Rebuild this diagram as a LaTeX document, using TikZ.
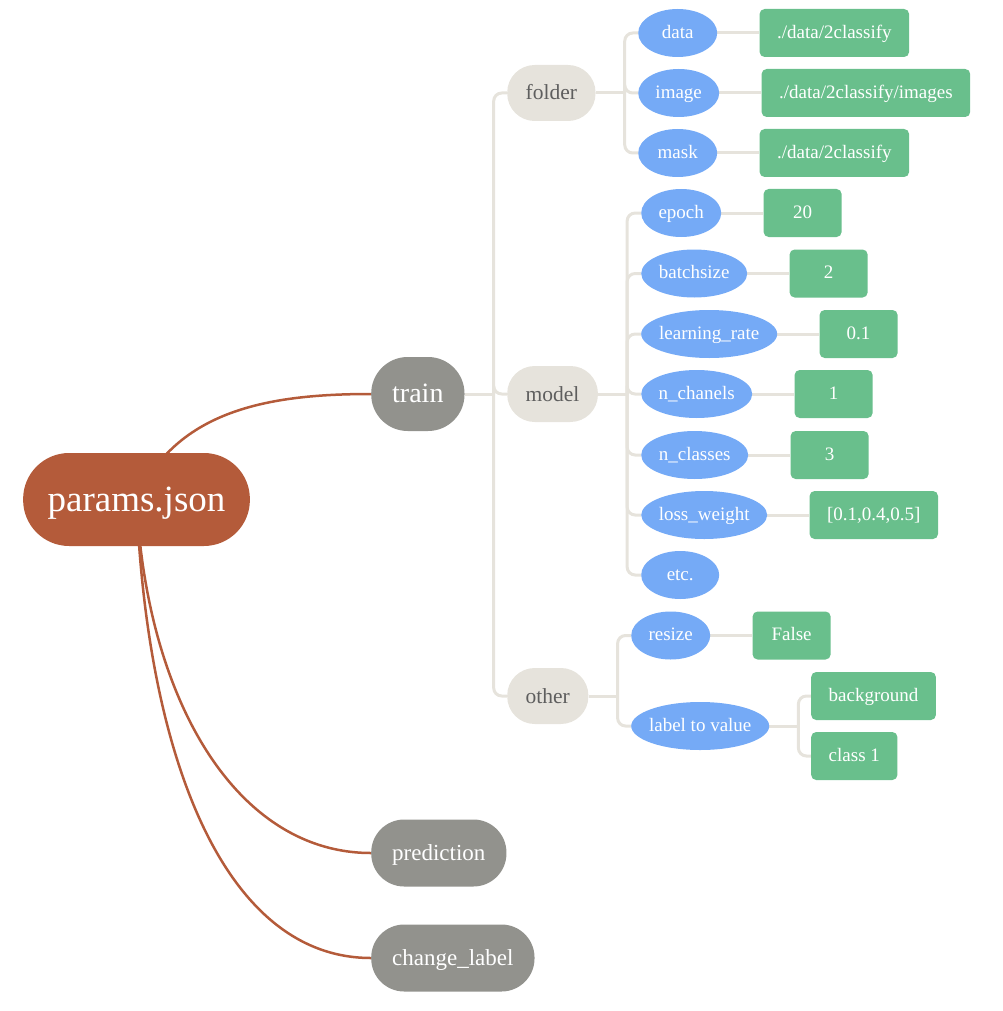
\documentclass[tikz,border=0pt]{standalone}
\usepackage{fontspec}
\setmainfont{Liberation Serif}
\usetikzlibrary{backgrounds,positioning,shapes.geometric}
\definecolor{root1}{HTML}{B45B3A}
\definecolor{gray1}{HTML}{92928D}
\definecolor{beige1}{HTML}{E6E3DC}
\definecolor{text1}{HTML}{5E5E5E}
\definecolor{key1}{HTML}{75AAF6}
\definecolor{val1}{HTML}{69BF8C}
\definecolor{line1}{HTML}{E6E3DC}
\def\bussep{29pt}
\def\valsep{42pt}

\begin{document}
\begin{tikzpicture}[x=1pt,y=-1pt]
\tikzstyle{pill}=[rectangle,inner ysep=0pt]
\tikzstyle{root}=[pill,fill=root1,text=white,font=\fontsize{37}{40}\selectfont,text height=30pt,text depth=6pt,inner xsep=24.5pt,minimum height=93pt,rounded corners=46pt]
\tikzstyle{top}=[pill,fill=gray1,text=white,font=\fontsize{23}{26}\selectfont,text height=17pt,text depth=3pt,inner xsep=21pt,minimum height=67pt,rounded corners=33pt,anchor=west]
\tikzstyle{group}=[pill,fill=beige1,text=text1,font=\fontsize{21.5}{24}\selectfont,text height=17pt,text depth=3pt,inner xsep=18.5pt,minimum height=56pt,rounded corners=27.5pt,anchor=west]
\tikzstyle{key}=[ellipse,fill=key1,text=white,font=\fontsize{19}{22}\selectfont,text height=14pt,text depth=3.5pt,inner ysep=0pt,inner xsep=-3pt,minimum height=48pt,anchor=west]
\tikzstyle{value}=[rectangle,rounded corners=5pt,fill=val1,text=white,font=\fontsize{19}{22}\selectfont,text height=14pt,text depth=3.5pt,inner xsep=17.5pt,minimum width=78pt,minimum height=48pt]
\tikzstyle{branch}=[draw=line1,line width=3pt]
\tikzstyle{bus}=[branch,rounded corners=8pt]
\tikzstyle{main edge}=[draw=root1,line width=2.5pt]

\useasboundingbox (0,0) rectangle (1002,1011);

% Draw the root node
\node[root] (params) at (136.5,499.5) {params.json};

% Draw the first level
\node[top,minimum height=74pt,rounded corners=36.5pt,font=\fontsize{28}{30}\selectfont,text height=22pt,text depth=4.5pt] (train) at (371,394) {train};
\node[top] (prediction) at (371,853) {prediction};
\node[top] (change) at (371,958) {change\_label};

% Draw the second level
\foreach \name/\y in {folder/93,model/394,other/696}
\node[group] (\name) at (507,\y) {\name};

% Draw the folder keys and their values
\foreach \name/\y/\w/\val in {data/33/79/{./data/2classify},image/93/81/{./data/2classify/images},mask/153/79/{./data/2classify}} {
\node[key,minimum width=\w pt] (\name) at (638,\y) {\name};
\node[value,right=\valsep of \name] (\name-v) {\val};
}

% Draw the model keys and their values
\foreach \i/\y/\w/\txt/\val in {1/213/80/epoch/20,2/273.5/106/batchsize/2,3/334/136/learning\_rate/0.1,4/394/111/n\_chanels/1,5/455/107/n\_classes/3,6/515/126/loss\_weight/{[0.1,0.4,0.5]}} {
\node[key,minimum width=\w pt] (K-\i) at (641,\y) {\txt};
\node[value,right=\valsep of K-\i] (V-\i) {\val};
}
\node[key,minimum width=78pt] (K-7) at (641,575) {etc.};

% Draw the other keys
\node[key,minimum width=79pt] (resize) at (631,635.5) {resize};
\node[value,right=\valsep of resize] (resize-v) {False};
\node[key,minimum width=138pt] (lv) at (631,726) {label to value};
\node[value,anchor=west] (bg) at (811,696) {background};
\node[value,anchor=west] (cls) at (811,756) {class 1};

\begin{scope}[on background layer]
% Connect the root with the first level
\draw[main edge] (params.center) .. controls +(40,-90) and +(-101,0) .. (train.west);
\draw[main edge] (params.center) .. controls +(10,200) and +(-135,0) .. (prediction.west);
\draw[main edge] (params.center) .. controls +(10,250) and +(-150,0) .. (change.west);

% Connect every parent with its children
\foreach \src in {train,folder,model,other,lv}
\draw[branch] (\src.east) -- ++(\bussep,0) coordinate (\src-bus);
\foreach \dest in {folder,model,other}
\draw[bus] (train-bus) |- (\dest.west);
\foreach \dest in {data,image,mask}
\draw[bus] (folder-bus) |- (\dest.west);
\foreach \i in {1,...,7}
\draw[bus] (model-bus) |- (K-\i.west);
\foreach \dest in {resize,lv}
\draw[bus] (other-bus) |- (\dest.west);
\foreach \dest in {bg,cls}
\draw[bus] (lv-bus) |- (\dest.west);

% Connect every key with its value
\foreach \name in {data,image,mask,resize}
\draw[branch] (\name.east) -- (\name-v.west);
\foreach \i in {1,...,6}
\draw[branch] (K-\i.east) -- (V-\i.west);
\end{scope}
\end{tikzpicture}
\end{document}
